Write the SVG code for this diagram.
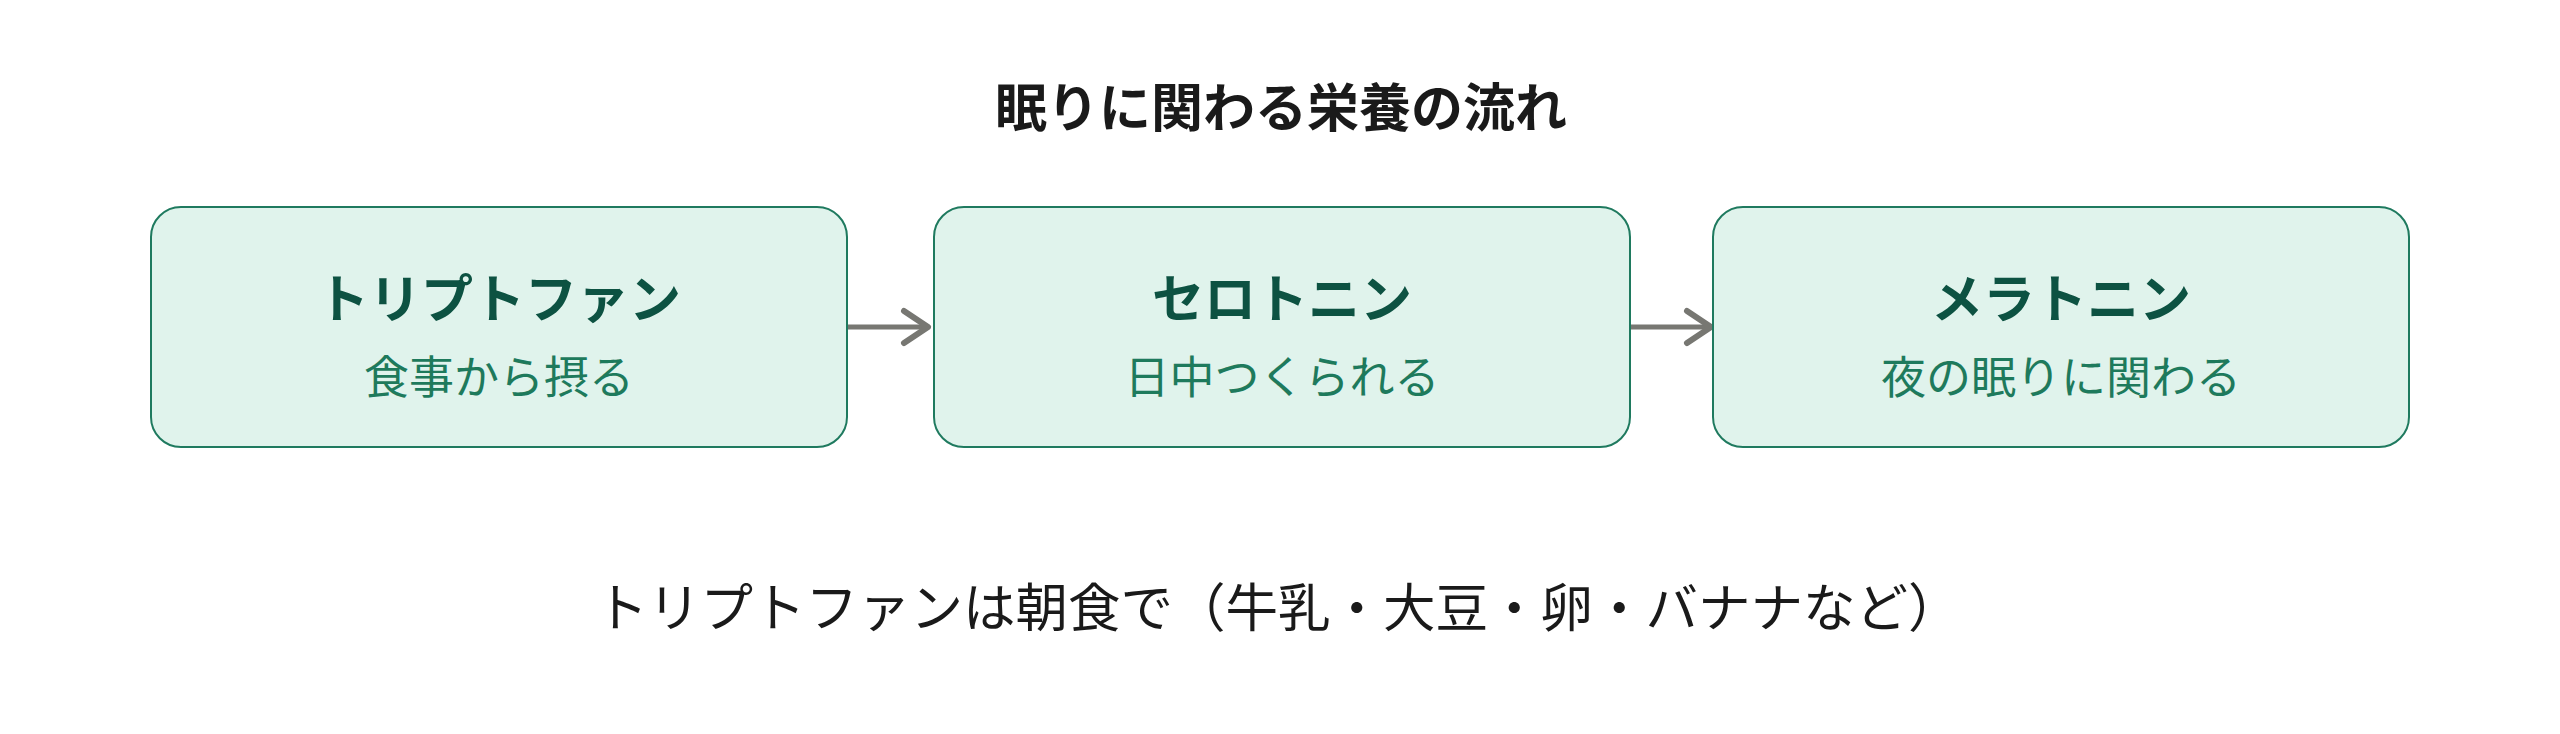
<svg xmlns="http://www.w3.org/2000/svg" width="2560" height="734" viewBox="0 0 2560 734">
<defs>
<style>
.bg{fill:#ffffff}
.box{fill:#e0f3ec;stroke:#1f7a5f;stroke-width:2}
.ttl{font-family:"Noto Sans CJK JP","Noto Sans",sans-serif;font-size:52px;font-weight:700;fill:#1a1a1a;text-anchor:middle}
.nt{font-family:"Noto Sans CJK JP","Noto Sans",sans-serif;font-size:52px;font-weight:700;fill:#0d5242;text-anchor:middle}
.ns{font-family:"Noto Sans CJK JP","Noto Sans",sans-serif;font-size:45px;font-weight:400;fill:#1e7a5c;text-anchor:middle}
.note{font-family:"Noto Sans CJK JP","Noto Sans",sans-serif;font-size:52.5px;font-weight:400;fill:#1a1a1a;text-anchor:middle}
.conn{stroke:#777772;stroke-width:5;fill:none}
</style>
<marker id="arr" markerUnits="userSpaceOnUse" markerWidth="34" markerHeight="42" viewBox="0 0 34 42" refX="29" refY="21" orient="auto">
<path d="M5,5 L29,21 L5,37" fill="none" stroke="#777772" stroke-width="6" stroke-linecap="round" stroke-linejoin="round"/>
</marker>
</defs>
<rect class="bg" x="0" y="0" width="2560" height="734"/>
<text class="ttl" x="1281" y="127">眠りに関わる栄養の流れ</text>
<g id="connectors">
<line class="conn" x1="848" y1="327" x2="928" y2="327" marker-end="url(#arr)"/>
<line class="conn" x1="1631" y1="327" x2="1711" y2="327" marker-end="url(#arr)"/>
</g>
<g id="node-tryptophan">
<rect class="box" x="151" y="207" width="696" height="240" rx="30" ry="30"/>
<text class="nt" x="499" y="318">トリプトファン</text>
<text class="ns" x="499" y="394">食事から摂る</text>
</g>
<g id="node-serotonin">
<rect class="box" x="934" y="207" width="696" height="240" rx="30" ry="30"/>
<text class="nt" x="1282" y="318">セロトニン</text>
<text class="ns" x="1282" y="394">日中つくられる</text>
</g>
<g id="node-melatonin">
<rect class="box" x="1713" y="207" width="696" height="240" rx="30" ry="30"/>
<text class="nt" x="2061" y="318">メラトニン</text>
<text class="ns" x="2061" y="394">夜の眠りに関わる</text>
</g>
<text class="note" x="1278" y="627">トリプトファンは朝食で（牛乳・大豆・卵・バナナなど）</text>
</svg>
